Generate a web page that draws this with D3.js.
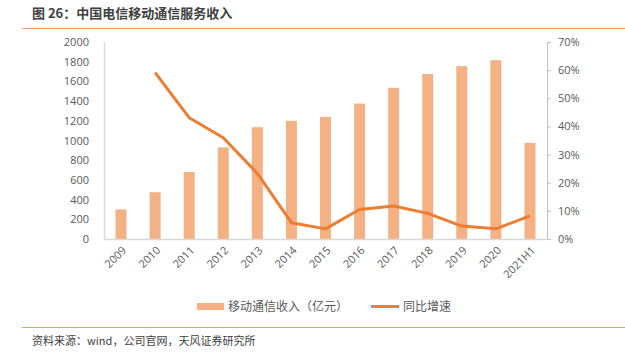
<!DOCTYPE html>
<html>
<head>
<meta charset="utf-8">
<script src="https://cdn.jsdelivr.net/npm/d3@7"></script>
<style>
  body { margin: 0; background: #fff; }
  text { font-family: "Noto Sans CJK SC", "Open Sans", sans-serif; }
</style>
</head>
<body>
<div id="chart"></div>
<script>
const years = ["2009","2010","2011","2012","2013","2014","2015","2016","2017","2018","2019","2020","2021H1"];
const revenue = [300, 475, 680, 930, 1135, 1200, 1240, 1375, 1535, 1675, 1755, 1815, 975];
const growth = [null, 59.1, 43.1, 36.0, 23.3, 5.8, 3.6, 10.5, 11.7, 9.1, 4.6, 3.6, 8.2];
const leftTicks = [0,200,400,600,800,1000,1200,1400,1600,1800,2000];
const rightTicks = [0,10,20,30,40,50,60,70];

const W = 625, H = 353;
const margin = {top: 42, right: 78, bottom: 114, left: 104};
const width = W - margin.left - margin.right;
const height = H - margin.top - margin.bottom;

const svg = d3.select("#chart").append("svg")
    .attr("width", W)
    .attr("height", H);

// title + rules
svg.append("text")
    .attr("x", 32).attr("y", 18)
    .attr("font-size", 13).attr("font-weight", "bold")
    .attr("fill", "#404040")
    .text("图 26：中国电信移动通信服务收入");
svg.append("line").attr("x1", 22).attr("x2", 625).attr("y1", 28.5).attr("y2", 28.5)
    .attr("stroke", "#F0A060").attr("stroke-width", 1);
svg.append("line").attr("x1", 22).attr("x2", 625).attr("y1", 327.5).attr("y2", 327.5)
    .attr("stroke", "#F0A060").attr("stroke-width", 1);
svg.append("text")
    .attr("x", 32).attr("y", 345)
    .attr("font-size", 11).attr("fill", "#404040")
    .text("资料来源：wind，公司官网，天风证券研究所");

const g = svg.append("g").attr("transform", `translate(${margin.left},${margin.top})`);

const x = d3.scaleBand().domain(years).range([0, width]);
const y = d3.scaleLinear().domain([0, 2000]).range([height, 0]);
const y2 = d3.scaleLinear().domain([0, 70]).range([height, 0]);

// bars
g.selectAll(".bar")
    .data(years.map((d, i) => ({year: d, val: revenue[i]})))
    .join("rect")
    .attr("class", "bar")
    .attr("x", d => x(d.year) + x.bandwidth() / 2 - 5.5)
    .attr("y", d => y(d.val))
    .attr("width", 11)
    .attr("height", d => height - y(d.val))
    .attr("fill", "#F4B183");

// left axis
const yAxis = g.append("g")
    .call(d3.axisLeft(y).tickValues(leftTicks).tickSize(0).tickPadding(15).tickFormat(d3.format("d")));
yAxis.select(".domain").attr("stroke", "#D9D9D9").attr("stroke-width", 1.5);
yAxis.selectAll("text").attr("font-size", 11).attr("fill", "#595959")
    .style("font-family", "'Open Sans', sans-serif");

// right axis
const y2Axis = g.append("g")
    .attr("transform", `translate(${width},0)`)
    .call(d3.axisRight(y2).tickValues(rightTicks).tickSize(4).tickPadding(7).tickFormat(d => d + "%"));
y2Axis.select(".domain").attr("stroke", "#BFBFBF");
y2Axis.selectAll("line").attr("stroke", "#BFBFBF");
y2Axis.selectAll("text").attr("font-size", 11).attr("fill", "#595959")
    .style("font-family", "'Open Sans', sans-serif");

// bottom axis
const xAxis = g.append("g")
    .attr("transform", `translate(0,${height})`)
    .call(d3.axisBottom(x).tickSize(0).tickPadding(0));
xAxis.select(".domain").attr("stroke", "#D9D9D9").attr("stroke-width", 1.5);
xAxis.selectAll("text")
    .attr("font-size", 11).attr("fill", "#595959")
    .style("font-family", "'Open Sans', sans-serif")
    .attr("text-anchor", "end")
    .attr("dy", 0)
    .attr("transform", "translate(6,12) rotate(-45)");

// growth line
const line = d3.line()
    .defined(d => d.val != null)
    .x(d => x(d.year) + x.bandwidth() / 2)
    .y(d => y2(d.val));
g.append("path")
    .datum(years.map((d, i) => ({year: d, val: growth[i]})))
    .attr("fill", "none")
    .attr("stroke", "#ED7D31")
    .attr("stroke-width", 3)
    .attr("stroke-linejoin", "round")
    .attr("d", line);

// legend
const legend = svg.append("g");
legend.append("rect").attr("x", 197).attr("y", 303).attr("width", 27).attr("height", 7).attr("fill", "#F4B183");
legend.append("text").attr("x", 228).attr("y", 311).attr("font-size", 12).attr("fill", "#595959")
    .text("移动通信收入（亿元）");
legend.append("line").attr("x1", 371).attr("x2", 399).attr("y1", 306.5).attr("y2", 306.5)
    .attr("stroke", "#ED7D31").attr("stroke-width", 3);
legend.append("text").attr("x", 403).attr("y", 311).attr("font-size", 12).attr("fill", "#595959")
    .text("同比增速");
</script>
</body>
</html>
